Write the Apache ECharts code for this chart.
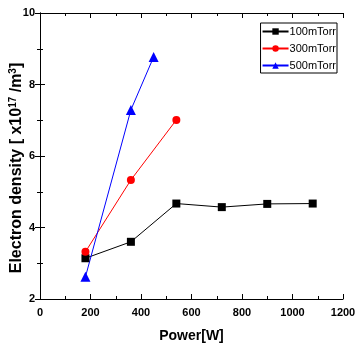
<!DOCTYPE html>
<html>
<head>
<meta charset="utf-8">
<script src="https://cdn.jsdelivr.net/npm/echarts@6/dist/echarts.min.js"></script>
<style>
  html, body { margin: 0; padding: 0; background: #fff; }
  #chart { width: 357px; height: 352px; }
</style>
</head>
<body>
<div id="chart"></div>
<script>
// electron density vs power, three pressures
const power100 = [180, 360, 540, 720, 900, 1080]
const density100 = [3.14, 3.6, 4.67, 4.57, 4.66, 4.67]
const power300 = [180, 360, 540]
const density300 = [3.32, 5.33, 7.01]
const power500 = [180, 360, 450]
const density500 = [2.62, 7.29, 8.77]
const seriesNames = ['100mTorr', '300mTorr', '500mTorr']

const pairs = (xs, ys) => xs.map((x, i) => [x, ys[i]])

const chart = echarts.init(document.getElementById('chart'))
const font = 'Liberation Sans'

const tickStyle = {
    axisLine: { show: true, lineStyle: { color: '#000', width: 1 } },
    axisTick: { show: true, inside: true, length: 5, lineStyle: { color: '#000' } },
    minorTick: { show: true, splitNumber: 2, length: 3, lineStyle: { color: '#000' } },
    splitLine: { show: false }
}

const options = {
    animation: false,
    grid: { left: 40, right: 14, top: 13, bottom: 53, containLabel: false, outerBoundsMode: 'none' },
    legend: {
        right: 20, top: 23,
        orient: 'vertical',
        itemWidth: 26, itemHeight: 8, itemGap: 6,
        borderColor: '#000', borderWidth: 1, padding: [3, 1, 2, 1],
        textStyle: { fontFamily: font, fontSize: 11, color: '#000', padding: [0, 0, 0, -4] },
        data: seriesNames
    },
    xAxis: [
        {
            type: 'value', min: 0, max: 1200, interval: 200,
            name: 'Power[W]', nameLocation: 'middle', nameGap: 30, nameMoveOverlap: false,
            nameTextStyle: { fontFamily: font, fontWeight: 'bold', fontSize: 14, color: '#000' },
            axisLabel: { fontFamily: font, fontWeight: 'bold', fontSize: 11, color: '#000', margin: 8, formatter: v => String(v) },
            ...tickStyle
        },
        {
            type: 'value', position: 'top', min: 0, max: 1200, interval: 200,
            axisLabel: { show: false },
            ...tickStyle
        }
    ],
    yAxis: [
        {
            type: 'value', min: 2, max: 10, interval: 2,
            name: '{b|Electron density [ x10}{s|17}{b| /m}{s|3}{b|]}',
            nameLocation: 'middle', nameGap: 15, nameMoveOverlap: false,
            nameTextStyle: {
                padding: [0, 24, 0, 0],
                rich: {
                    b: { fontFamily: font, fontWeight: 'bold', fontSize: 16, color: '#000' },
                    s: { fontFamily: font, fontWeight: 'bold', fontSize: 10, color: '#000', verticalAlign: 'top', padding: [0, 0, 7, 0] }
                }
            },
            axisLabel: { fontFamily: font, fontWeight: 'bold', fontSize: 11, color: '#000', margin: 5 },
            ...tickStyle
        },
        {
            type: 'value', position: 'right', min: 2, max: 10, interval: 2,
            axisLabel: { show: false },
            ...tickStyle
        }
    ],
    series: [
        {
            name: seriesNames[0], type: 'line', data: pairs(power100, density100),
            symbol: 'rect', symbolSize: 8,
            itemStyle: { color: '#000' }, lineStyle: { color: '#000', width: 1 }
        },
        {
            name: seriesNames[1], type: 'line', data: pairs(power300, density300),
            symbol: 'circle', symbolSize: 8,
            itemStyle: { color: '#ff0000' }, lineStyle: { color: '#ff0000', width: 1 }
        },
        {
            name: seriesNames[2], type: 'line', data: pairs(power500, density500),
            symbol: 'triangle', symbolSize: 10,
            itemStyle: { color: '#0000ff' }, lineStyle: { color: '#0000ff', width: 1 }
        }
    ]
}

chart.setOption(options)
</script>
</body>
</html>
